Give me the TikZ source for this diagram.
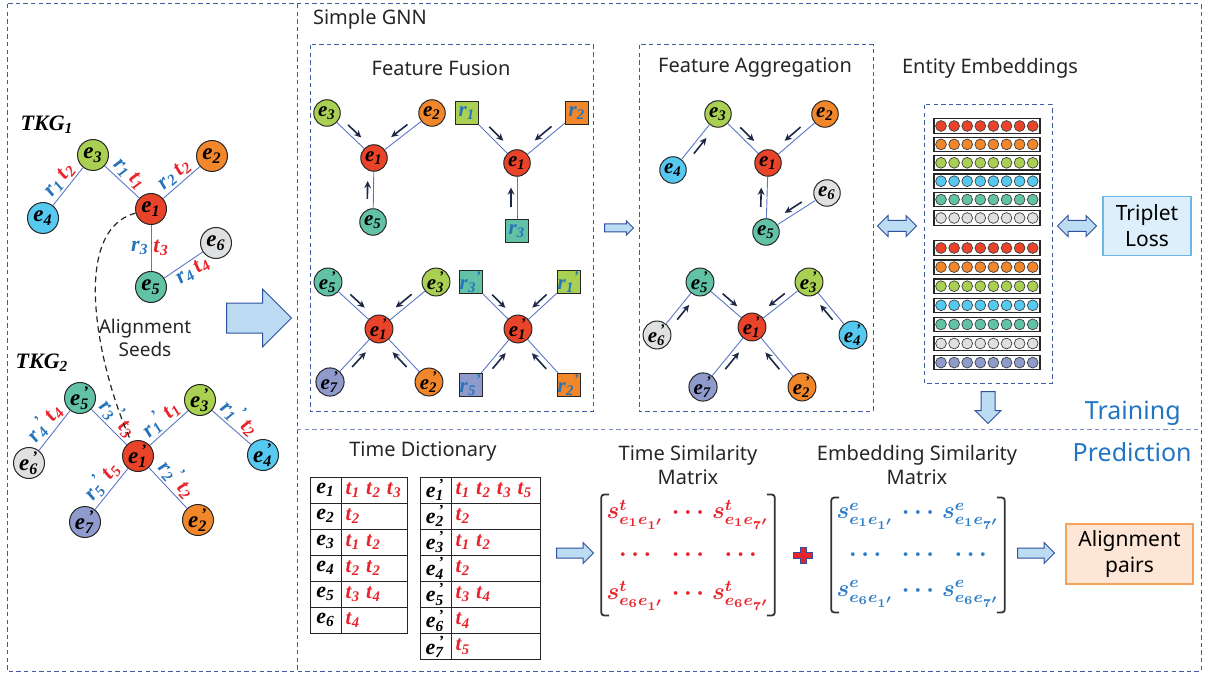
\documentclass[tikz,border=0pt]{standalone}
\usepackage{fontspec}
\usepackage{bm}
\usepackage{tikz}
\usetikzlibrary{calc,matrix,arrows.meta,shapes.arrows}
\setmainfont{Liberation Serif}
\setsansfont{Noto Sans}

\definecolor{frameBlue}{HTML}{3F5AA2}
\definecolor{edgeBlue}{HTML}{5B77C6}
\definecolor{arrowNavy}{HTML}{1D2748}
\definecolor{relBlue}{HTML}{2673BB}
\definecolor{timeRed}{HTML}{E8232B}
\definecolor{embBlue}{HTML}{2C7CC8}
\definecolor{phaseBlue}{HTML}{2275C2}
\definecolor{cRed}{HTML}{E9432A}
\definecolor{cOrange}{HTML}{F2862A}
\definecolor{cGreen}{HTML}{A9D052}
\definecolor{cSky}{HTML}{56C9F1}
\definecolor{cTeal}{HTML}{62C2A5}
\definecolor{cGray}{HTML}{DFE0E1}
\definecolor{cLav}{HTML}{8F9BCC}
\definecolor{blockFill}{HTML}{BCDCF4}
\definecolor{blockLine}{HTML}{30509E}
\definecolor{lossFill}{HTML}{DDEFFA}
\definecolor{lossLine}{HTML}{6BB7E6}
\definecolor{pairFill}{HTML}{FDE6D6}
\definecolor{pairLine}{HTML}{F5A25C}

\newcommand{\ent}[1]{\textbf{\textit{e}}\textsubscript{\textbf{\textit{#1}}}}
\newcommand{\entP}[1]{\textbf{\textit{e}}\textsubscript{\textbf{\textit{#1}}}\kern-.25em\textsuperscript{\textbf{'}}}
\newcommand{\relLabel}[1]{\textcolor{relBlue}{\textbf{\textit{r}}\textsubscript{\textbf{\textit{#1}}}}}
\newcommand{\relLabelP}[1]{\textcolor{relBlue}{\textbf{\textit{r}}\textsubscript{\textbf{\textit{#1}}}\textsuperscript{\textbf{'}}}}
\newcommand{\timeLabel}[1]{\textcolor{timeRed}{\textbf{\textit{t}}\textsubscript{\textbf{\textit{#1}}}}}
\newcommand{\tGap}{\hspace{3pt}}
\newcommand{\flowArrow}[3]{\draw[flow] ($(#1)!0.36!(#2)!3pt!#3:(#2)$) -- ($(#1)!0.64!(#2)!3pt!#3:(#2)$);}

\begin{document}
\begin{tikzpicture}[x=0.5pt,y=-0.5pt]
  \tikzset{
    ent/.style={circle,draw=black!85,line width=0.5pt,minimum size=15.5pt,inner sep=0pt,font=\fontsize{11.5}{12}\selectfont},
    entS/.style={ent,minimum size=13.25pt,font=\fontsize{10.5}{12}\selectfont},
    relBox/.style={rectangle,draw=black!85,line width=0.5pt,minimum size=11.5pt,inner sep=0pt,font=\fontsize{10.5}{12}\selectfont},
    link/.style={draw=edgeBlue,line width=0.45pt},
    flow/.style={draw=arrowNavy,line width=0.8pt,-{Stealth[length=3.6pt,width=3.4pt]}},
    frame/.style={draw=frameBlue,line width=0.5pt,dash pattern=on 2.2pt off 1.6pt},
    title/.style={font=\sffamily\fontsize{10}{12}\selectfont,text=black!85,align=center},
    tkg/.style={font=\bfseries\itshape\fontsize{11}{12}\selectfont},
    edgeTxt/.style={font=\fontsize{11}{12}\selectfont,inner sep=1pt},
    edgeLab/.style={edgeTxt,sloped},
    seedLine/.style={draw=black!85,line width=0.6pt,dash pattern=on 3pt off 2pt},
    blockArrow/.style={single arrow,draw=blockLine,fill=blockFill,line width=0.5pt,inner xsep=0pt,anchor=tail},
    twoWay/.style={double arrow,draw=blockLine,fill=blockFill,line width=0.5pt,inner xsep=0pt,inner ysep=2.5pt,minimum height=19.5pt,double arrow head extend=2.5pt},
    dot/.style={circle,draw=black!75,line width=0.35pt,minimum size=5.4pt,inner sep=0pt},
    embRow/.style={rectangle,draw=black!85,line width=0.6pt,minimum width=53pt,minimum height=7.2pt,inner sep=0pt},
    lossBox/.style={rectangle,draw=lossLine,fill=lossFill,line width=0.8pt,minimum width=44pt,minimum height=29.5pt,align=center,font=\sffamily\fontsize{10.5}{13}\selectfont},
    pairBox/.style={rectangle,draw=pairLine,fill=pairFill,line width=0.8pt,minimum width=63.5pt,minimum height=30pt,align=center,font=\sffamily\fontsize{10.5}{13}\selectfont},
    phase/.style={font=\sffamily\fontsize{12.5}{14}\selectfont,text=phaseBlue,anchor=east,inner sep=0pt},
    keyCell/.style={rectangle,draw=black!85,line width=0.5pt,minimum width=15.5pt,minimum height=13pt,inner sep=0pt,font=\fontsize{11}{12}\selectfont},
    timeCell/.style={rectangle,draw=black!85,line width=0.5pt,minimum height=13pt,text width=#1,inner xsep=2pt,inner ysep=0pt,align=left,anchor=west,font=\fontsize{10.5}{12}\selectfont},
    simMat/.style={matrix of math nodes,column sep=2pt,row sep=10pt,inner sep=1.5pt,nodes={inner sep=1pt,font=\fontsize{12}{13}\selectfont}},
    bracket/.style={draw=black!80,line width=0.9pt,rounded corners=1.5pt},
    plusSign/.style={draw=blockLine,fill=timeRed,line width=0.5pt}
  }
  \useasboundingbox (0,0) rectangle (1209,679);

  % frames
  \draw[frame] (7,4) rectangle (1201,671);
  \draw[frame] (297,4) -- (297,671);
  \draw[frame,draw=frameBlue!70] (297,429) -- (1201,429);
  \draw[frame] (310,45) rectangle (593,411);
  \draw[frame] (639,45) rectangle (873,411);
  \draw[frame] (924,105) rectangle (1052,383);

  % TKG 1
  \node[tkg] (tkg1) at (47,125) {TKG\textsubscript{1}};
  \node[ent,fill=cGreen] (g1e3) at (93,155) {\ent{3}};
  \node[ent,fill=cOrange] (g1e2) at (212,156) {\ent{2}};
  \node[ent,fill=cSky] (g1e4) at (43,218) {\ent{4}};
  \node[ent,fill=cRed] (g1e1) at (151,209) {\ent{1}};
  \node[ent,fill=cGray] (g1e6) at (216,243) {\ent{6}};
  \node[ent,fill=cTeal] (g1e5) at (151,287) {\ent{5}};
  \draw[link] (g1e4) -- node[edgeLab,above] {\relLabel{1}\,\timeLabel{2}} (g1e3);
  \draw[link] (g1e3) -- node[edgeLab,above] {\relLabel{1}\,\timeLabel{1}} (g1e1);
  \draw[link] (g1e1) -- node[edgeLab,above] {\relLabel{2}\,\timeLabel{2}} (g1e2);
  \draw[link] (g1e1) -- node[edgeTxt,left] {\relLabel{3}} node[edgeTxt,right] {\timeLabel{3}} (g1e5);
  \draw[link] (g1e5) -- node[edgeLab,below,pos=0.6] {\relLabel{4}\,\timeLabel{4}} (g1e6);

  % TKG 2
  \node[tkg] (tkg2) at (42,363) {TKG\textsubscript{2}};
  \node[ent,fill=cTeal] (g2e5) at (80,398) {\entP{5}};
  \node[ent,fill=cGreen] (g2e3) at (200,400) {\entP{3}};
  \node[ent,fill=cGray] (g2e6) at (29,463) {\entP{6}};
  \node[ent,fill=cRed] (g2e1) at (138,456) {\entP{1}};
  \node[ent,fill=cSky] (g2e4) at (263,455) {\entP{4}};
  \node[ent,fill=cLav] (g2e7) at (85,522) {\entP{7}};
  \node[ent,fill=cOrange] (g2e2) at (198,520) {\entP{2}};
  \draw[link] (g2e6) -- node[edgeLab,above] {\relLabelP{4}\,\timeLabel{4}} (g2e5);
  \draw[link] (g2e5) -- node[edgeLab,above] {\relLabelP{3}\,\timeLabel{3}} (g2e1);
  \draw[link] (g2e1) -- node[edgeLab,above] {\relLabelP{1}\,\timeLabel{1}} (g2e3);
  \draw[link] (g2e3) -- node[edgeLab,above] {\relLabelP{1}\,\timeLabel{2}} (g2e4);
  \draw[link] (g2e7) -- node[edgeLab,above] {\relLabelP{5}\,\timeLabel{5}} (g2e1);
  \draw[link] (g2e1) -- node[edgeLab,above] {\relLabelP{2}\,\timeLabel{2}} (g2e2);

  % seeds
  \draw[seedLine] (g1e1) to[out=195,in=115,looseness=0.8] (g2e1);
  \node[title,font=\sffamily\fontsize{9.5}{11.5}\selectfont] (seeds) at (145,338) {Alignment\\Seeds};
  \node[blockArrow,minimum height=32.5pt,inner ysep=7.25pt,single arrow head extend=7pt] (toGnn) at (226,318) {};

  % simple gnn
  \node[title,anchor=west] (gnn) at (306,19) {Simple GNN};
  \node[title] (fusion) at (441,68) {Feature Fusion};
  \node[title] (aggr) at (755,68) {Feature Aggregation};
  \node[title] (embed) at (990,68) {Entity Embeddings};

  % feature fusion
  \node[entS,fill=cGreen] (fa3) at (327,113) {\ent{3}};
  \node[entS,fill=cOrange] (fa2) at (432,113) {\ent{2}};
  \node[entS,fill=cRed] (fa1) at (374,158) {\ent{1}};
  \node[entS,fill=cTeal] (fa5) at (373,222) {\ent{5}};
  \draw[link] (fa3) -- (fa1);
  \draw[link] (fa2) -- (fa1);
  \draw[link] (fa5) -- (fa1);
  \flowArrow{fa3}{fa1}{90}
  \flowArrow{fa2}{fa1}{-90}
  \flowArrow{fa5}{fa1}{90}

  \node[entS,fill=cRed] (fb1) at (517,163) {\ent{1}};
  \node[relBox,fill=cGreen] (fbr1) at (467,113) {\relLabel{1}};
  \node[relBox,fill=cOrange] (fbr2) at (577,113) {\relLabel{2}};
  \node[relBox,fill=cTeal] (fbr3) at (517,231) {\relLabel{3}};
  \draw[link] (fbr1) -- (fb1);
  \draw[link] (fbr2) -- (fb1);
  \draw[link] (fbr3) -- (fb1);
  \flowArrow{fbr1}{fb1}{90}
  \flowArrow{fbr2}{fb1}{-90}
  \flowArrow{fbr3}{fb1}{90}

  \node[entS,fill=cTeal] (fc5) at (328,282) {\entP{5}};
  \node[entS,fill=cGreen] (fc3) at (436,282) {\entP{3}};
  \node[entS,fill=cRed] (fc1) at (379,329) {\entP{1}};
  \node[entS,fill=cLav] (fc7) at (330,382) {\entP{7}};
  \node[entS,fill=cOrange] (fc2) at (429,382) {\entP{2}};
  \draw[link] (fc5) -- (fc1);
  \draw[link] (fc3) -- (fc1);
  \draw[link] (fc7) -- (fc1);
  \draw[link] (fc2) -- (fc1);
  \flowArrow{fc5}{fc1}{90}
  \flowArrow{fc3}{fc1}{-90}
  \flowArrow{fc7}{fc1}{-90}
  \flowArrow{fc2}{fc1}{90}

  \node[entS,fill=cRed] (fd1) at (518,329) {\entP{1}};
  \node[relBox,fill=cTeal] (fdr3) at (471,282) {\relLabelP{3}};
  \node[relBox,fill=cGreen] (fdr1) at (569,282) {\relLabelP{1}};
  \node[relBox,fill=cLav] (fdr5) at (471,385) {\relLabelP{5}};
  \node[relBox,fill=cOrange] (fdr2) at (569,385) {\relLabelP{2}};
  \draw[link] (fdr3) -- (fd1);
  \draw[link] (fdr1) -- (fd1);
  \draw[link] (fdr5) -- (fd1);
  \draw[link] (fdr2) -- (fd1);
  \flowArrow{fdr3}{fd1}{90}
  \flowArrow{fdr1}{fd1}{-90}
  \flowArrow{fdr5}{fd1}{-90}
  \flowArrow{fdr2}{fd1}{90}

  \node[blockArrow,minimum height=14.5pt,inner ysep=1.75pt,single arrow head extend=1.6pt] (toAggr) at (604,228) {};

  % feature aggregation
  \node[entS,fill=cGreen] (ga3) at (718,114) {\ent{3}};
  \node[entS,fill=cOrange] (ga2) at (825,114) {\ent{2}};
  \node[entS,fill=cSky] (ga4) at (673,170) {\ent{4}};
  \node[entS,fill=cRed] (ga1) at (768,163) {\ent{1}};
  \node[entS,fill=cGray] (ga6) at (827,193) {\ent{6}};
  \node[entS,fill=cTeal] (ga5) at (766,232) {\ent{5}};
  \draw[link] (ga4) -- (ga3);
  \draw[link] (ga3) -- (ga1);
  \draw[link] (ga2) -- (ga1);
  \draw[link] (ga5) -- (ga1);
  \draw[link] (ga6) -- (ga5);
  \flowArrow{ga4}{ga3}{-90}
  \flowArrow{ga3}{ga1}{90}
  \flowArrow{ga2}{ga1}{-90}
  \flowArrow{ga5}{ga1}{90}
  \flowArrow{ga6}{ga5}{-90}

  \node[entS,fill=cTeal] (gb5) at (700,282) {\entP{5}};
  \node[entS,fill=cGreen] (gb3) at (809,282) {\entP{3}};
  \node[entS,fill=cGray] (gb6) at (657,335) {\entP{6}};
  \node[entS,fill=cRed] (gb1) at (752,327) {\entP{1}};
  \node[entS,fill=cSky] (gb4) at (853,335) {\entP{4}};
  \node[entS,fill=cLav] (gb7) at (703,387) {\entP{7}};
  \node[entS,fill=cOrange] (gb2) at (802,387) {\entP{2}};
  \draw[link] (gb6) -- (gb5);
  \draw[link] (gb5) -- (gb1);
  \draw[link] (gb3) -- (gb1);
  \draw[link] (gb4) -- (gb3);
  \draw[link] (gb7) -- (gb1);
  \draw[link] (gb2) -- (gb1);
  \flowArrow{gb6}{gb5}{-90}
  \flowArrow{gb5}{gb1}{90}
  \flowArrow{gb3}{gb1}{-90}
  \flowArrow{gb4}{gb3}{90}
  \flowArrow{gb7}{gb1}{-90}
  \flowArrow{gb2}{gb1}{90}

  % entity embeddings
  \foreach \col [count=\i] in {cRed,cOrange,cGreen,cSky,cTeal,cGray} {
    \node[embRow] (ea\i) at (987,{126+18.4*(\i-1)}) {};
    \foreach \k in {0,...,7}
      \node[dot,fill=\col] (ea\i-\k) at ({941+13.1*\k},{126+18.4*(\i-1)}) {};
  }
  \foreach \col [count=\i] in {cRed,cOrange,cGreen,cSky,cTeal,cGray,cLav} {
    \node[embRow] (eb\i) at (987,{248+19.1*(\i-1)}) {};
    \foreach \k in {0,...,7}
      \node[dot,fill=\col] (eb\i-\k) at ({941+13.1*\k},{248+19.1*(\i-1)}) {};
  }
  \node[twoWay] (aggrEmb) at (897,226) {};
  \node[twoWay] (embLoss) at (1077,226) {};
  \node[lossBox] (loss) at (1147,226) {Triplet\\Loss};
  \node[blockArrow,shape border rotate=270,minimum height=16pt,inner xsep=3.25pt,inner ysep=0pt,single arrow head extend=3pt] (toPred) at (988,391) {};

  \node[phase] (train) at (1181,413) {Training};
  \node[phase] (pred) at (1192,452) {Prediction};

  % time dictionary
  \node[title] (dict) at (423,452) {Time Dictionary};
  \foreach \k/\ts in {1/{\timeLabel{1}\tGap\timeLabel{2}\tGap\timeLabel{3}},2/{\timeLabel{2}},3/{\timeLabel{1}\tGap\timeLabel{2}},4/{\timeLabel{2}\tGap\timeLabel{2}},5/{\timeLabel{3}\tGap\timeLabel{4}},6/{\timeLabel{4}}} {
    \node[keyCell] (da\k) at (325.5,{464+26*\k}) {\ent{\k}};
    \node[timeCell=29pt] (dt\k) at (341,{464+26*\k}) {\mbox{\ts}};
  }
  \foreach \k/\ts in {1/{\timeLabel{1}\tGap\timeLabel{2}\tGap\timeLabel{3}\tGap\timeLabel{5}},2/{\timeLabel{2}},3/{\timeLabel{1}\tGap\timeLabel{2}},4/{\timeLabel{2}},5/{\timeLabel{3}\tGap\timeLabel{4}},6/{\timeLabel{4}},7/{\timeLabel{5}}} {
    \node[keyCell] (db\k) at (435.5,{464+26.1*\k}) {\entP{\k}};
    \node[timeCell=40.5pt] (dbt\k) at (451,{464+26.1*\k}) {\mbox{\ts}};
  }
  \node[blockArrow,minimum height=18.5pt,inner ysep=2.25pt,single arrow head extend=2.75pt] (toSim) at (556,553) {};

  % similarity matrices
  \node[title] (tsimT) at (688,465) {Time Similarity\\Matrix};
  \matrix[simMat,nodes={text=timeRed}] (tsim) at (688,555) {
    \bm{s^{t}_{e_1e_{1'}}} & \bm{\cdots} & \bm{s^{t}_{e_1e_{7'}}} \\
    \bm{\ldots} & \bm{\ldots} & \bm{\ldots} \\
    \bm{s^{t}_{e_6e_{1'}}} & \bm{\cdots} & \bm{s^{t}_{e_6e_{7'}}} \\
  };
  \draw[bracket] ([xshift=4pt]tsim.north west) -- (tsim.north west) -- (tsim.south west) -- ([xshift=4pt]tsim.south west);
  \draw[bracket] ([xshift=-4pt]tsim.north east) -- (tsim.north east) -- (tsim.south east) -- ([xshift=-4pt]tsim.south east);
  \coordinate (plus) at (803,555);
  \draw[plusSign] (plus) ++(-3,-8) -- ++(6,0) -- ++(0,5) -- ++(6.5,0) -- ++(0,6) -- ++(-6.5,0) -- ++(0,5) -- ++(-6,0) -- ++(0,-5) -- ++(-6.5,0) -- ++(0,-6) -- ++(6.5,0) -- cycle;
  \node[title] (esimT) at (917,465) {Embedding Similarity\\Matrix};
  \matrix[simMat,nodes={text=embBlue}] (esim) at (918,555) {
    \bm{s^{e}_{e_1e_{1'}}} & \bm{\cdots} & \bm{s^{e}_{e_1e_{7'}}} \\
    \bm{\ldots} & \bm{\ldots} & \bm{\ldots} \\
    \bm{s^{e}_{e_6e_{1'}}} & \bm{\cdots} & \bm{s^{e}_{e_6e_{7'}}} \\
  };
  \draw[bracket] ([xshift=4pt]esim.north west) -- (esim.north west) -- (esim.south west) -- ([xshift=4pt]esim.south west);
  \draw[bracket] ([xshift=-4pt]esim.north east) -- (esim.north east) -- (esim.south east) -- ([xshift=-4pt]esim.south east);
  \node[blockArrow,minimum height=18.5pt,inner ysep=2.25pt,single arrow head extend=2.75pt] (toPairs) at (1017,553) {};
  \node[pairBox] (pairs) at (1129.5,554) {Alignment\\pairs};
\end{tikzpicture}
\end{document}
